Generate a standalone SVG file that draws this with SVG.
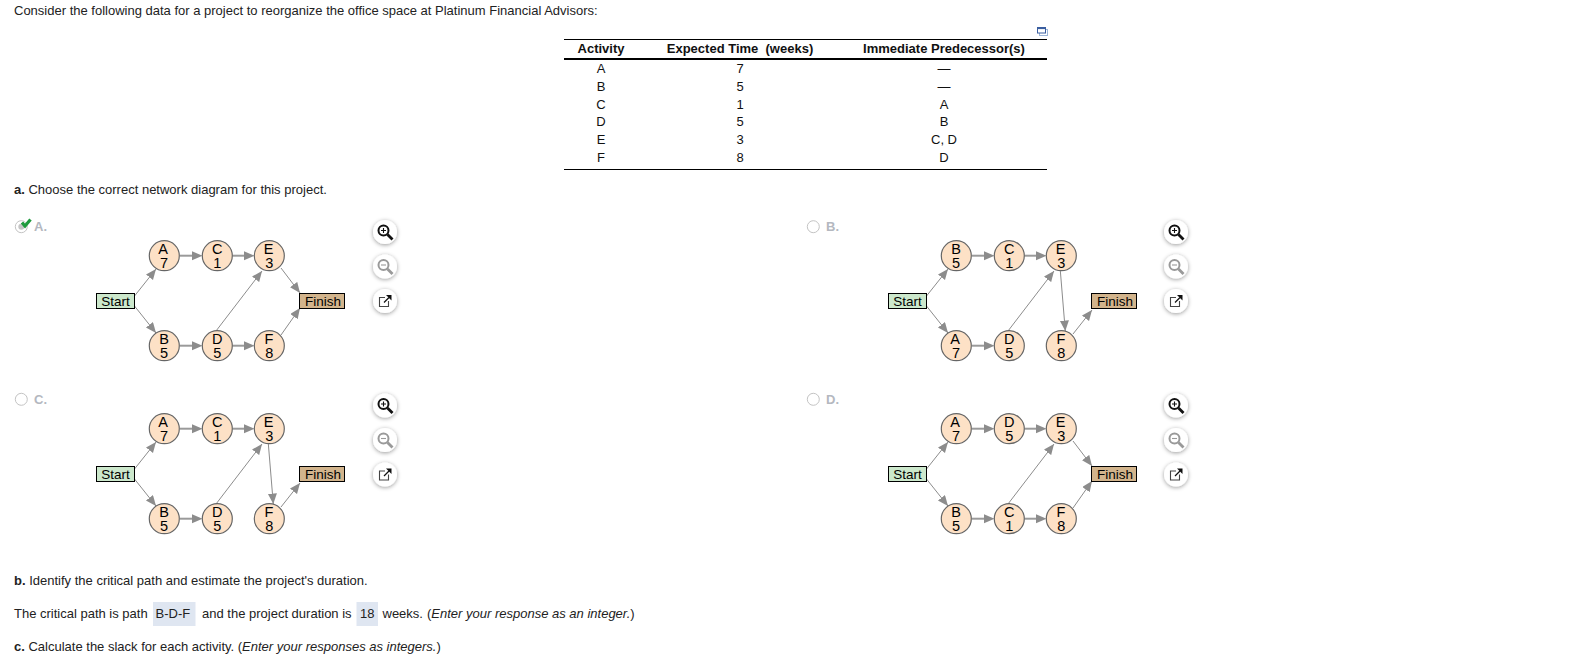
<svg xmlns="http://www.w3.org/2000/svg" xmlns:xlink="http://www.w3.org/1999/xlink" width="1575" height="658" viewBox="0 0 1575 658">
<style>
text{font-family:"Liberation Sans",Arial,sans-serif;font-size:13px;fill:#222}
.b{font-weight:bold}
.i{font-style:italic}
.t{text-anchor:middle;fill:#111}
.th{text-anchor:middle;font-weight:bold;fill:#111}
.n{fill:#fde1c6;stroke:#666;stroke-width:1.2}
.nt{text-anchor:middle;font-size:14.500px;fill:#000}
.bx{text-anchor:middle;font-size:13.500px;fill:#000}
.st{fill:#cce8cc;stroke:#000;stroke-width:1}
.fi{fill:#d2b48c;stroke:#000;stroke-width:1}
.c{stroke:#8c8c8c;stroke-width:1;fill:none;marker-end:url(#tip)}
.h{stroke:#9a9a9a;stroke-width:2;fill:none;marker-end:url(#base)}
.opt{font-weight:bold;font-size:13px;fill:#b4b8c0}
.radio{fill:#fff;stroke:#c4c4c4;stroke-width:1}
.hl{fill:#dfe6f1}
.rule{stroke:#000;fill:none}
.btn{fill:#fff;filter:url(#sh)}
</style>
<defs>
<marker id="tip" markerUnits="userSpaceOnUse" markerWidth="11" markerHeight="10" refX="10.500" refY="4.500" orient="auto"><path d="M0 0L10.500 4.500L0 9Z" fill="#8c8c8c"/></marker>
<marker id="base" markerUnits="userSpaceOnUse" markerWidth="11" markerHeight="10" refX="0" refY="4.500" orient="auto"><path d="M0 0L10.500 4.500L0 9Z" fill="#8c8c8c"/></marker>
<filter id="sh" x="-50%" y="-50%" width="200%" height="200%"><feDropShadow dx="0" dy="1" stdDeviation="2.200" flood-color="#000" flood-opacity="0.4"/></filter>
<g id="btn-in"><circle class="btn" r="12"/><circle cx="-1.500" cy="-1.500" r="5" fill="#fff" stroke="#111" stroke-width="2"/><path d="M2.500 2.500L7.500 7.500" stroke="#111" stroke-width="2.800"/><path d="M-4 -1.500H1M-1.500 -4V1" stroke="#111" stroke-width="1.100"/></g>
<g id="btn-out"><circle class="btn" r="12"/><circle cx="-1.500" cy="-1.500" r="5" fill="#fff" stroke="#999" stroke-width="2"/><path d="M2.500 2.500L7.500 7.500" stroke="#999" stroke-width="2.800"/><path d="M-4 -1.500H1" stroke="#999" stroke-width="1.100"/></g>
<g id="btn-pop"><circle class="btn" r="12"/><path d="M0 -3.500H-5.500V5.500H3.500V0" fill="none" stroke="#444" stroke-width="1.100"/><path d="M-1 1.500L4 -3.500" stroke="#111" stroke-width="1.300"/><path d="M1 -6H6.500V-0.500Z" fill="#111"/></g>
</defs>
<rect width="1575" height="658" fill="#fff"/>

<text x="14" y="15">Consider the following data for a project to reorganize the office space at Platinum Financial Advisors:</text>

<g id="table">
<g transform="translate(1037 27)"><rect x="2.500" y="2.500" width="8" height="6" fill="#fff" stroke="#9db5d8"/><rect x="0.500" y="0.500" width="8" height="5.500" fill="#fff" stroke="#3b5fa0"/><rect x="0.500" y="0.500" width="8" height="1.600" fill="#3b5fa0"/></g>
<path class="rule" d="M564 39.500H1047"/>
<path class="rule" stroke-width="2" d="M564 59H1047"/>
<path class="rule" d="M564 169.500H1047"/>
<text class="th" x="601" y="53">Activity</text>
<text class="th" x="740" y="53" xml:space="preserve">Expected Time  (weeks)</text>
<text class="th" x="944" y="53">Immediate Predecessor(s)</text>
<text class="t" x="601" y="73">A</text><text class="t" x="740" y="73">7</text><text class="t" x="944" y="73">—</text>
<text class="t" x="601" y="91">B</text><text class="t" x="740" y="91">5</text><text class="t" x="944" y="91">—</text>
<text class="t" x="601" y="109">C</text><text class="t" x="740" y="109">1</text><text class="t" x="944" y="109">A</text>
<text class="t" x="601" y="126">D</text><text class="t" x="740" y="126">5</text><text class="t" x="944" y="126">B</text>
<text class="t" x="601" y="144">E</text><text class="t" x="740" y="144">3</text><text class="t" x="944" y="144">C, D</text>
<text class="t" x="601" y="162">F</text><text class="t" x="740" y="162">8</text><text class="t" x="944" y="162">D</text>
</g>

<text x="14" y="194"><tspan class="b">a.</tspan> Choose the correct network diagram for this project.</text>

<g id="option-a">
<circle class="radio" cx="21.300" cy="226.700" r="6"/><circle cx="21.300" cy="226.700" r="3" fill="#c4c4c4"/>
<path d="M22 222.500L25 226L30.500 219.500" fill="none" stroke="#1d9a3c" stroke-width="3.200"/>
<text class="opt" x="34" y="231">A.</text>
<use xlink:href="#btn-in" href="#btn-in" x="385" y="232"/><use xlink:href="#btn-out" href="#btn-out" x="385" y="266.500"/><use xlink:href="#btn-pop" href="#btn-pop" x="385" y="301"/>
<g id="a-connectors">
<path class="c" d="M134.500 296L156 269"/><path class="c" d="M134.500 306L156 333"/>
<path class="h" d="M180 255.700H192"/><path class="h" d="M232.500 255.700H244"/>
<path class="h" d="M180 345.700H192"/><path class="h" d="M232.500 345.700H244"/>
<path class="c" d="M216 331L262 271"/>
<path class="c" d="M281 268L300 293"/><path class="c" d="M281 335L300 308"/>
</g>
<g id="a-start"><rect class="st" x="96.500" y="293.500" width="38" height="15"/><text class="bx" x="115.500" y="305.500">Start</text></g>
<g id="a-A"><circle class="n" cx="164.300" cy="255.700" r="15"/><text class="nt" x="163" y="254">A</text><text class="nt" x="164" y="267.500">7</text></g>
<g id="a-C"><circle class="n" cx="217.300" cy="255.700" r="15"/><text class="nt" x="217.300" y="254">C</text><text class="nt" x="217.300" y="267.500">1</text></g>
<g id="a-E"><circle class="n" cx="269.300" cy="255.700" r="15"/><text class="nt" x="268.500" y="254">E</text><text class="nt" x="269.300" y="267.500">3</text></g>
<g id="a-B"><circle class="n" cx="164.300" cy="345.700" r="15"/><text class="nt" x="164" y="344">B</text><text class="nt" x="164" y="357.500">5</text></g>
<g id="a-D"><circle class="n" cx="217.300" cy="345.700" r="15"/><text class="nt" x="217.300" y="344">D</text><text class="nt" x="217.300" y="357.500">5</text></g>
<g id="a-F"><circle class="n" cx="269.300" cy="345.700" r="15"/><text class="nt" x="269" y="344">F</text><text class="nt" x="269.300" y="357.500">8</text></g>
<g id="a-finish"><rect class="fi" x="299.500" y="293.500" width="45" height="15"/><text class="bx" x="323" y="305.500">Finish</text></g>
</g>

<g id="option-b">
<circle class="radio" cx="813.300" cy="226.700" r="6"/>
<text class="opt" x="826" y="231">B.</text>
<use xlink:href="#btn-in" href="#btn-in" x="1176" y="232"/><use xlink:href="#btn-out" href="#btn-out" x="1176" y="266.500"/><use xlink:href="#btn-pop" href="#btn-pop" x="1176" y="301"/>
<g transform="translate(792 0)">
<g id="b-connectors">
<path class="c" d="M134.500 296L156 269"/><path class="c" d="M134.500 306L156 333"/>
<path class="h" d="M180 255.700H192"/><path class="h" d="M232.500 255.700H244"/>
<path class="h" d="M180 345.700H192"/>
<path class="c" d="M216 331L262 271"/>
<path class="c" d="M268.300 270.500L273.300 331"/><path class="c" d="M281 334L300 310"/>
</g>
<g id="b-start"><rect class="st" x="96.500" y="293.500" width="38" height="15"/><text class="bx" x="115.500" y="305.500">Start</text></g>
<g id="b-B"><circle class="n" cx="164.300" cy="255.700" r="15"/><text class="nt" x="164" y="254">B</text><text class="nt" x="164" y="267.500">5</text></g>
<g id="b-C"><circle class="n" cx="217.300" cy="255.700" r="15"/><text class="nt" x="217.300" y="254">C</text><text class="nt" x="217.300" y="267.500">1</text></g>
<g id="b-E"><circle class="n" cx="269.300" cy="255.700" r="15"/><text class="nt" x="268.500" y="254">E</text><text class="nt" x="269.300" y="267.500">3</text></g>
<g id="b-A"><circle class="n" cx="164.300" cy="345.700" r="15"/><text class="nt" x="163" y="344">A</text><text class="nt" x="164" y="357.500">7</text></g>
<g id="b-D"><circle class="n" cx="217.300" cy="345.700" r="15"/><text class="nt" x="217.300" y="344">D</text><text class="nt" x="217.300" y="357.500">5</text></g>
<g id="b-F"><circle class="n" cx="269.300" cy="345.700" r="15"/><text class="nt" x="269" y="344">F</text><text class="nt" x="269.300" y="357.500">8</text></g>
<g id="b-finish"><rect class="fi" x="299.500" y="293.500" width="45" height="15"/><text class="bx" x="323" y="305.500">Finish</text></g>
</g>
</g>

<g id="option-c">
<circle class="radio" cx="21.300" cy="399.300" r="6"/>
<text class="opt" x="34" y="404">C.</text>
<use xlink:href="#btn-in" href="#btn-in" x="385" y="405.500"/><use xlink:href="#btn-out" href="#btn-out" x="385" y="440"/><use xlink:href="#btn-pop" href="#btn-pop" x="385" y="474.500"/>
<g transform="translate(0 173)">
<g id="c-connectors">
<path class="c" d="M134.500 296L156 269"/><path class="c" d="M134.500 306L156 333"/>
<path class="h" d="M180 255.700H192"/><path class="h" d="M232.500 255.700H244"/>
<path class="h" d="M180 345.700H192"/>
<path class="c" d="M216 331L262 271"/>
<path class="c" d="M268.300 270.500L273.300 331"/><path class="c" d="M281 334L300 310"/>
</g>
<g id="c-start"><rect class="st" x="96.500" y="293.500" width="38" height="15"/><text class="bx" x="115.500" y="305.500">Start</text></g>
<g id="c-A"><circle class="n" cx="164.300" cy="255.700" r="15"/><text class="nt" x="163" y="254">A</text><text class="nt" x="164" y="267.500">7</text></g>
<g id="c-C"><circle class="n" cx="217.300" cy="255.700" r="15"/><text class="nt" x="217.300" y="254">C</text><text class="nt" x="217.300" y="267.500">1</text></g>
<g id="c-E"><circle class="n" cx="269.300" cy="255.700" r="15"/><text class="nt" x="268.500" y="254">E</text><text class="nt" x="269.300" y="267.500">3</text></g>
<g id="c-B"><circle class="n" cx="164.300" cy="345.700" r="15"/><text class="nt" x="164" y="344">B</text><text class="nt" x="164" y="357.500">5</text></g>
<g id="c-D"><circle class="n" cx="217.300" cy="345.700" r="15"/><text class="nt" x="217.300" y="344">D</text><text class="nt" x="217.300" y="357.500">5</text></g>
<g id="c-F"><circle class="n" cx="269.300" cy="345.700" r="15"/><text class="nt" x="269" y="344">F</text><text class="nt" x="269.300" y="357.500">8</text></g>
<g id="c-finish"><rect class="fi" x="299.500" y="293.500" width="45" height="15"/><text class="bx" x="323" y="305.500">Finish</text></g>
</g>
</g>

<g id="option-d">
<circle class="radio" cx="813.300" cy="399.300" r="6"/>
<text class="opt" x="826" y="404">D.</text>
<use xlink:href="#btn-in" href="#btn-in" x="1176" y="405.500"/><use xlink:href="#btn-out" href="#btn-out" x="1176" y="440"/><use xlink:href="#btn-pop" href="#btn-pop" x="1176" y="474.500"/>
<g transform="translate(792 173)">
<g id="d-connectors">
<path class="c" d="M134.500 296L156 269"/><path class="c" d="M134.500 306L156 333"/>
<path class="h" d="M180 255.700H192"/><path class="h" d="M232.500 255.700H244"/>
<path class="h" d="M180 345.700H192"/><path class="h" d="M232.500 345.700H244"/>
<path class="c" d="M216 331L262 271"/>
<path class="c" d="M281 268L300 293"/><path class="c" d="M281 335L300 308"/>
</g>
<g id="d-start"><rect class="st" x="96.500" y="293.500" width="38" height="15"/><text class="bx" x="115.500" y="305.500">Start</text></g>
<g id="d-A"><circle class="n" cx="164.300" cy="255.700" r="15"/><text class="nt" x="163" y="254">A</text><text class="nt" x="164" y="267.500">7</text></g>
<g id="d-D"><circle class="n" cx="217.300" cy="255.700" r="15"/><text class="nt" x="217.300" y="254">D</text><text class="nt" x="217.300" y="267.500">5</text></g>
<g id="d-E"><circle class="n" cx="269.300" cy="255.700" r="15"/><text class="nt" x="268.500" y="254">E</text><text class="nt" x="269.300" y="267.500">3</text></g>
<g id="d-B"><circle class="n" cx="164.300" cy="345.700" r="15"/><text class="nt" x="164" y="344">B</text><text class="nt" x="164" y="357.500">5</text></g>
<g id="d-C"><circle class="n" cx="217.300" cy="345.700" r="15"/><text class="nt" x="217.300" y="344">C</text><text class="nt" x="217.300" y="357.500">1</text></g>
<g id="d-F"><circle class="n" cx="269.300" cy="345.700" r="15"/><text class="nt" x="269" y="344">F</text><text class="nt" x="269.300" y="357.500">8</text></g>
<g id="d-finish"><rect class="fi" x="299.500" y="293.500" width="45" height="15"/><text class="bx" x="323" y="305.500">Finish</text></g>
</g>
</g>

<text x="14" y="585"><tspan class="b">b.</tspan> Identify the critical path and estimate the project's duration.</text>
<rect class="hl" x="153" y="602" width="42.500" height="24"/>
<rect class="hl" x="356.500" y="602" width="21.500" height="24"/>
<text x="14" y="618">The critical path is path</text>
<text x="155.500" y="618">B-D-F</text>
<text x="202" y="618">and the project duration is</text>
<text x="360" y="618">18</text>
<text x="382.500" y="618">weeks.</text>
<text x="427" y="618">(<tspan class="i">Enter your response as an integer.</tspan>)</text>
<text x="14" y="651"><tspan class="b">c.</tspan> Calculate the slack for each activity. (<tspan class="i">Enter your responses as integers.</tspan>)</text>
</svg>
